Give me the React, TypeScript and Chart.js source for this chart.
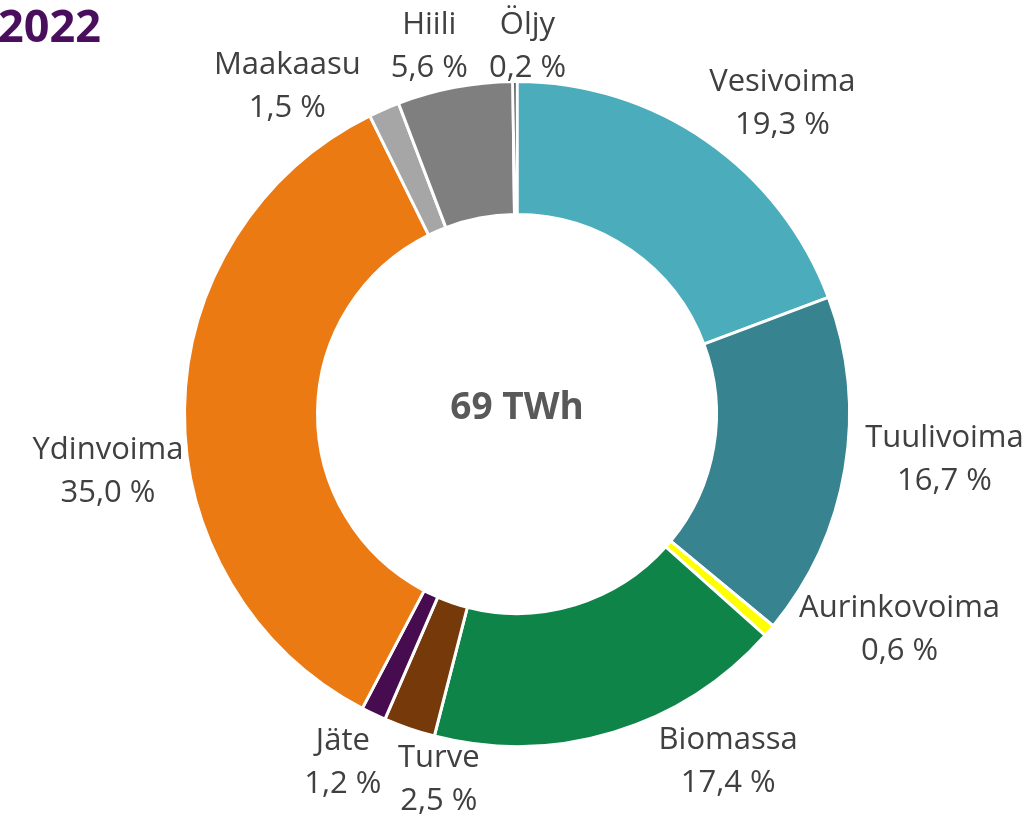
import React, { useEffect, useRef } from "react";
import { Chart, registerables } from "chart.js";

Chart.register(...registerables);

const categories = ["Vesivoima", "Tuulivoima", "Aurinkovoima", "Biomassa", "Turve", "Jäte", "Ydinvoima", "Maakaasu", "Hiili", "Öljy"];
const shares = [19.3, 16.7, 0.6, 17.4, 2.5, 1.2, 35.0, 1.5, 5.6, 0.2];
const colors = ["#4BACBC", "#37838F", "#FFFF00", "#0F8449", "#763A0A", "#470C50", "#EB7A13", "#A6A6A6", "#7F7F7F", "#0D0D0D"];
const labelNudges: [number, number][] = [
  [38, 17], [34, -21], [80, -45], [95, -35], [51, -12], [-2, -12], [-10, 62], [-70, 38], [-13, 24], [13, 31],
];
const title = "2022";
const centerText = "69 TWh";

const fmt = (v: number) => v.toFixed(1).replace(".", ",") + " %";

const labelPlugin = {
  id: "outerLabels",
  afterDraw(chart: any) {
    const ctx = chart.ctx;
    const meta = chart.getDatasetMeta(0);
    ctx.save();
    ctx.font = "31px 'Open Sans'";
    ctx.fillStyle = "#404040";
    ctx.textAlign = "center";
    ctx.textBaseline = "middle";
    meta.data.forEach((arc: any, i: number) => {
      const mid = (arc.startAngle + arc.endAngle) / 2;
      const r = arc.outerRadius * 1.2;
      const x = arc.x + Math.cos(mid) * r + labelNudges[i][0];
      const y = arc.y + Math.sin(mid) * r + labelNudges[i][1];
      ctx.fillText(categories[i], x, y - 21);
      ctx.fillText(fmt(shares[i]), x, y + 22);
    });
    const a0 = meta.data[0];
    ctx.font = "bold 37px 'Open Sans'";
    ctx.fillStyle = "#595959";
    ctx.fillText(centerText, a0.x, a0.y - 6);
    ctx.font = "bold 45px 'Open Sans'";
    ctx.fillStyle = "#4A0F5C";
    ctx.textAlign = "left";
    ctx.textBaseline = "alphabetic";
    ctx.fillText(title, -2, 42);
    ctx.restore();
  },
};

export default function App() {
  const ref = useRef<HTMLCanvasElement>(null);
  useEffect(() => {
    if (!ref.current) return;
    const chart = new Chart(ref.current, {
      type: "doughnut",
      data: {
        labels: categories,
        datasets: [
          {
            data: shares,
            backgroundColor: colors,
            borderColor: "#FFFFFF",
            borderWidth: 3,
          },
        ],
      },
      options: {
        animation: false,
        responsive: false,
        cutout: "60%",
        layout: { padding: { top: 80, bottom: 74, left: 183, right: 180 } },
        plugins: { legend: { display: false }, tooltip: { enabled: false } },
      },
      plugins: [labelPlugin],
    });
    return () => chart.destroy();
  }, []);
  return (
    <div style={{ position: "fixed", left: 0, top: 0, width: 1031, height: 822, background: "#fff" }}>
      <canvas ref={ref} width={1031} height={822} style={{ width: 1031, height: 822 }} />
    </div>
  );
}
